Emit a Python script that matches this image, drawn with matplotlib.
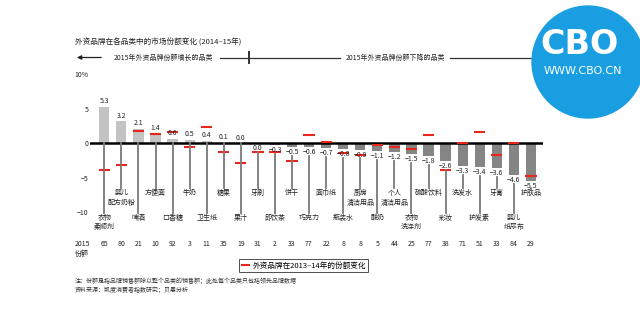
import matplotlib
matplotlib.use('Agg')
import matplotlib.pyplot as plt
from matplotlib.lines import Line2D
from matplotlib.patches import Ellipse, FancyArrowPatch
from matplotlib.transforms import blended_transform_factory
import numpy as np

plt.rcParams['font.family'] = ['Noto Sans CJK SC', 'DejaVu Sans']
plt.rcParams['axes.unicode_minus'] = True

# 各品类外资品牌份额变化 (2014-15) 及 2013-14 对比
categories = ['衣物\n柔顺剂', '婴儿\n配方奶粉', '啤酒', '方便面', '口香糖', '牛奶', '卫生纸',
              '糖果', '果汁', '牙刷', '即饮茶', '饼干', '巧克力', '面巾纸', '瓶装水',
              '厨房\n清洁用品', '酸奶', '个人\n清洁用品', '衣物\n洗涤剂', '碳酸饮料', '彩妆',
              '洗发水', '护发素', '牙膏', '婴儿\n纸尿布', '护肤品']
change_1415 = [5.3, 3.2, 2.1, 1.4, 0.6, 0.5, 0.4, 0.1, 0.0, 0.0, -0.3, -0.5, -0.6, -0.7,
               -0.8, -0.9, -1.1, -1.2, -1.5, -1.8, -2.6, -3.3, -3.4, -3.6, -4.6, -5.5]
change_1314 = [-3.9, -3.1, 1.8, 1.35, 1.7, -0.5, 2.3, -1.2, -2.8, -1.2, -1.2, -2.5, 1.15,
               0.25, -1.35, -1.75, -0.25, -0.6, -0.8, 1.2, -3.8, 0.0, 1.7, -1.65, 0.0, -4.8]
share_2015 = [65, 80, 21, 10, 92, 3, 11, 35, 19, 31, 2, 33, 77, 22, 8, 8, 5, 44, 25, 77,
              38, 71, 51, 33, 84, 29]
n_growth = 9  # 前9个品类份额增长

W, H = 640, 325
fig = plt.figure(figsize=(W / 100, H / 100), dpi=100)


def fx(px):
    return px / W


def fy(py):
    return 1 - py / H


ax = fig.add_axes([fx(90), fy(235), fx(543 - 90), (235 - 65) / H])
ax.set_xlim(-0.839, 25.71)
ax.set_ylim(-13.29, 11.35)
for s in ax.spines.values():
    s.set_visible(False)
ax.set_xticks([])
ax.set_yticks([10, 5, 0, -5, -10])
ax.set_yticklabels(['10%', '5', '0', '\u22125', '\u221210'], fontsize=5, color='#222222')
ax.tick_params(axis='y', length=0, pad=1)

x = np.arange(len(categories))
vals = np.array(change_1415)
colors = ['#c3c3c3' if i < n_growth else '#858585' for i in range(len(x))]
ax.bar(x, vals, width=0.6, color=colors, zorder=2)
ax.axhline(0, color='black', lw=1.8, zorder=3)

# 上年变化：红色短线
ax.hlines(change_1314, x - 0.33, x + 0.33, color='#e8261c', lw=1.5, zorder=4)

# 数值标签、引线与品类名称
for i, (v, name) in enumerate(zip(vals, categories)):
    low = (i % 2 == 0)
    end = -10.1 if low else -6.5
    top = -10.2 if low else -6.65
    if i < n_growth:
        ax.text(i, v + 0.25, f'{v:.1f}', ha='center', va='bottom', fontsize=5,
                color='#222222', zorder=5)
        start = 0
    else:
        ax.text(i, v - 0.15, f'{v:.1f}'.replace('-', '\u2212'), ha='center', va='top',
                fontsize=5, color='#222222', zorder=5)
        start = v - 1.3
    ax.add_line(Line2D([i, i], [start, end], color='#7a7a7a', linewidth=1.3, zorder=6))
    ax.text(i, top, name, ha='center', va='top', fontsize=5, color='#222222',
            linespacing=1.25)

# 2015年份额
tr = blended_transform_factory(ax.transData, fig.transFigure)
for i, s in enumerate(share_2015):
    ax.text(i, fy(244), str(s), transform=tr, ha='center', va='center', fontsize=5,
            color='#222222', clip_on=False)
fig.text(fx(75), fy(244), '2015', ha='left', va='center', fontsize=5, color='#222222')
fig.text(fx(75), fy(254), '份额', ha='left', va='center', fontsize=5, color='#222222')

# 标题与分组箭头
fig.text(fx(75), fy(43), '外资品牌在各品类中的市场份额变化 (2014\u201315年)', ha='left',
         va='center', fontsize=5.5, color='#222222')
fig.add_artist(Line2D([fx(220), fx(340)], [fy(57.5), fy(57.5)], color='#333333', lw=0.9))
fig.add_artist(Line2D([fx(450), fx(570)], [fy(57.5), fy(57.5)], color='#333333', lw=0.9))
fig.add_artist(Line2D([fx(249), fx(249)], [fy(52), fy(63)], color='#333333', lw=1.4))
fig.add_artist(FancyArrowPatch(
    (fx(104), fy(57.5)), (fx(74), fy(57.5)), transform=fig.transFigure,
    arrowstyle='-|>,head_length=2.5,head_width=1.2', color='#222222', lw=0.9))
fig.text(fx(163), fy(57.5), '2015年外资品牌份额增长的品类', ha='center', va='center',
         fontsize=5, color='#222222')
fig.text(fx(395), fy(57.5), '2015年外资品牌份额下降的品类', ha='center', va='center',
         fontsize=5, color='#222222')

# 图例
handle = Line2D([], [], color='#e8261c', lw=1.5)
leg = fig.legend([handle], ['外资品牌在2013\u201314年的份额变化'], loc='center',
                 bbox_to_anchor=(fx(303.7), fy(265.8)), fontsize=5.5, frameon=True,
                 fancybox=False, handlelength=1.0, handletextpad=0.4, borderpad=0.35,
                 borderaxespad=0)
leg.get_frame().set_edgecolor('#222222')
leg.get_frame().set_linewidth(0.7)

fig.text(fx(75), fy(281), '注：份额是指品牌销售额除以整个品类的销售额；此处每个品类只包括领先品牌数据',
         ha='left', va='center', fontsize=4.3, color='#333333')
fig.text(fx(75), fy(290), '资料来源：凯度消费者指数研究；贝恩分析', ha='left', va='center',
         fontsize=4.3, color='#333333')

# 右上角 CBO 标识
fig.add_artist(Ellipse((fx(588), fy(62)), 2 * 56 / W, 2 * 56 / H,
                       transform=fig.transFigure, color='#1a9ee2', zorder=10))
fig.text(fx(580), fy(44), 'CBO', ha='center', va='center', fontsize=24,
         fontweight='heavy', color='white', family='DejaVu Sans', zorder=11)
fig.text(fx(583), fy(70.5), 'WWW.CBO.CN', ha='center', va='center', fontsize=8,
         color='white', family='DejaVu Sans', zorder=11)

fig.savefig('out.png', dpi=100, facecolor='white')
